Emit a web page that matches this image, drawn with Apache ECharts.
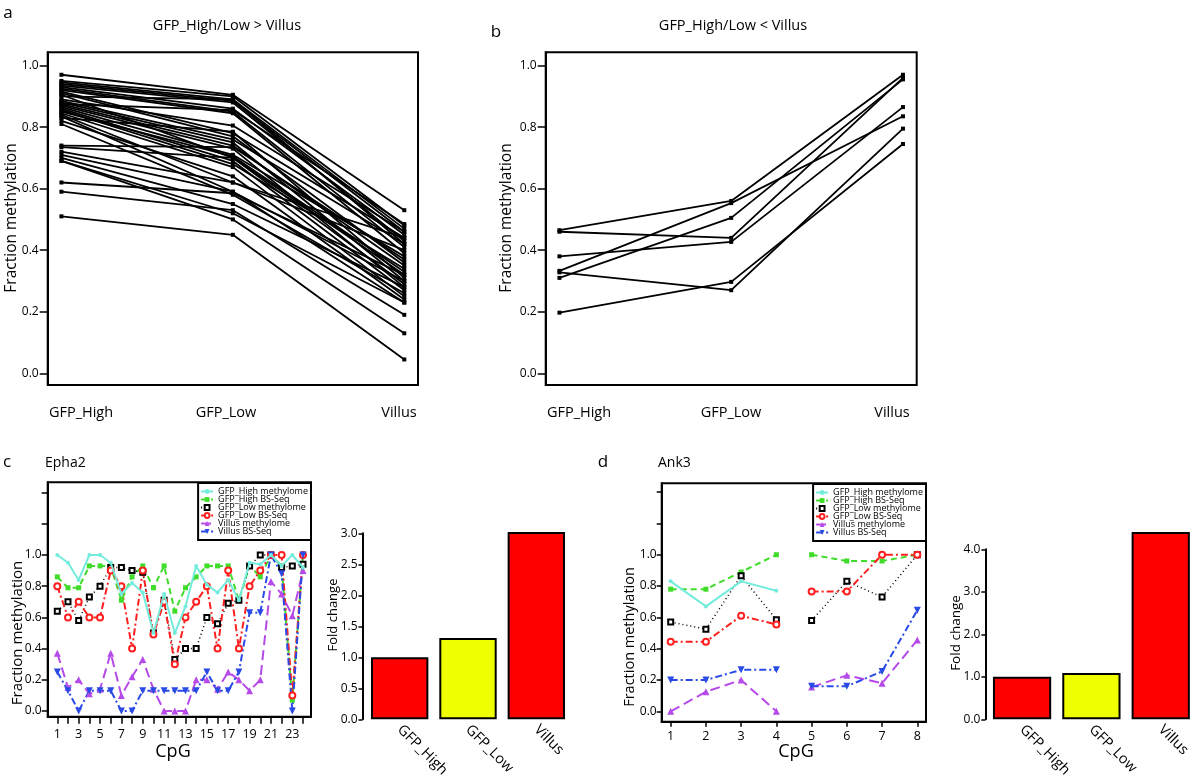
<!DOCTYPE html>
<html><head><meta charset="utf-8">
<script src="https://cdn.jsdelivr.net/npm/echarts@6/dist/echarts.min.js"></script>
<style>html,body{margin:0;padding:0;background:#fff}#main{width:1200px;height:782px}</style>
</head><body><div id="main"></div>
<script>
// ---------- DATA ----------
const groups = ['GFP_High', 'GFP_Low', 'Villus'];
// panel a: GFP_High/Low > Villus (one entry per region)
const aHigh   = [0.97,0.95,0.945,0.94,0.935,0.93,0.925,0.92,0.915,0.91,0.905,0.89,0.885,0.88,0.875,0.87,0.865,0.86,0.855,0.85,0.845,0.84,0.835,0.83,0.82,0.81,0.74,0.735,0.72,0.71,0.70,0.69,0.62,0.59,0.69,0.51,0.875,0.90];
const aLow    = [0.905,0.90,0.89,0.885,0.88,0.86,0.85,0.845,0.78,0.77,0.70,0.805,0.76,0.75,0.74,0.73,0.71,0.69,0.68,0.705,0.67,0.62,0.59,0.785,0.64,0.58,0.735,0.70,0.62,0.59,0.55,0.52,0.585,0.53,0.50,0.45,0.855,0.89];
const aVillus = [0.53,0.48,0.47,0.46,0.43,0.45,0.41,0.39,0.44,0.36,0.32,0.46,0.42,0.30,0.35,0.28,0.38,0.27,0.34,0.33,0.25,0.40,0.23,0.31,0.24,0.26,0.37,0.29,0.44,0.30,0.28,0.23,0.32,0.19,0.13,0.045,0.485,0.42];
// panel b: GFP_High/Low < Villus
const bHigh   = [0.465,0.46,0.38,0.333,0.31,0.328,0.197];
const bLow    = [0.56,0.44,0.427,0.553,0.505,0.27,0.297];
const bVillus = [0.97,0.96,0.865,0.835,0.955,0.795,0.745];
// panels c/d series names
const seriesNames = ['GFP_High methylome','GFP_High BS-Seq','GFP_Low methylome','GFP_Low BS-Seq','Villus methylome','Villus BS-Seq'];
// panel c: Epha2
const cpgC = [1,2,3,4,5,6,7,8,9,10,11,12,13,14,15,16,17,18,19,20,21,22,23,24];
const cpgCLabels = [1,3,5,7,9,11,13,15,17,19,21,23];
const cHighMeth = [1.0,0.95,0.84,1.0,1.0,0.95,0.75,0.82,0.76,0.50,0.75,0.50,0.67,0.93,0.81,0.76,0.84,0.71,0.95,0.94,1.0,0.93,1.0,0.92];
const cHighBS   = [0.86,0.79,0.79,0.93,0.93,0.93,0.71,0.86,0.93,0.79,0.93,0.64,0.79,0.86,0.93,0.93,0.93,0.71,0.93,0.86,1.0,0.93,0.07,1.0];
const cLowMeth  = [0.64,0.70,0.58,0.73,0.80,0.92,0.92,0.90,0.89,0.50,0.71,0.33,0.40,0.40,0.60,0.56,0.69,0.71,0.93,1.0,1.0,0.92,0.93,0.94];
const cLowBS    = [0.80,0.60,0.70,0.60,0.60,0.90,0.80,0.40,0.90,0.49,0.70,0.30,0.60,0.70,0.80,0.40,0.90,0.40,0.80,0.90,1.0,1.0,0.10,1.0];
const cVilMeth  = [0.37,0.15,0.20,0.11,0.14,0.37,0.10,0.22,0.33,0.14,0.0,0.0,0.0,0.20,0.20,0.14,0.25,0.20,0.13,0.20,0.83,0.75,0.61,0.90];
const cVilBS    = [0.25,0.13,0.0,0.13,0.13,0.13,0.0,0.0,0.13,0.13,0.13,0.13,0.13,0.13,0.25,0.13,0.13,0.25,0.63,0.63,1.0,0.88,0.0,1.0];
// panel d: Ank3 (CpGs 1-4 and 5-8 are separate stretches)
const cpgD = [1,2,3,4,5,6,7,8];
const dHighMeth = [0.83,0.67,0.83,0.77,null,null,null,null];
const dHighBS   = [0.78,0.78,0.89,1.0,1.0,0.96,0.96,1.0];
const dLowMeth  = [0.57,0.525,0.865,0.585,0.58,0.83,0.73,1.0];
const dLowBS    = [0.445,0.445,0.61,0.555,0.765,0.765,1.0,1.0];
const dVilMeth  = [0.0,0.125,0.2,0.0,0.155,0.23,0.18,0.455];
const dVilBS    = [0.2,0.2,0.265,0.265,0.16,0.16,0.255,0.645];
const dBreakAfter = 4;
// fold change bars
const cFold = [1.0, 1.31, 3.02];
const dFold = [1.0, 1.09, 4.41];
const methTicks = [0,0.2,0.4,0.6,0.8,1.0];
const methTicksExtra = [0,0.2,0.4,0.6,0.8,1.0,1.2,1.4];

// ---------- STYLE ----------
const FF = "'Open Sans', sans-serif";
const lineStyles = [
  {color:'#74ecdc', symbol:'circle', size:4, type:'solid', width:2},
  {color:'#3fdc2a', symbol:'rect', size:5, type:[6,4], width:2},
  {color:'#000000', symbol:'emptyRect', size:5, type:[1,3], width:1.5},
  {color:'#ff1f1f', symbol:'emptyCircle', size:6, type:[7,3,2,3], width:2},
  {color:'#b64ae9', symbol:'triangle', size:7, type:[10,5], width:2},
  {color:'#2a4ae6', symbol:'triangle', size:7, rotate:180, type:[7,3,2,3], width:2}
];
const barColors = ['#ff0000', '#f0ff00', '#ff0000'];

const series = [];
function pushPair(hi, lo, vi, idx) {
  hi.forEach((h, i) => {
    series.push({type:'line', xAxisIndex:idx, yAxisIndex:idx, silent:true,
      data:[[0,h],[1,lo[i]],[2,vi[i]]], symbol:'rect', symbolSize:4,
      lineStyle:{color:'#000', width:1.8}, itemStyle:{color:'#000'}});
  });
}
pushPair(aHigh, aLow, aVillus, 0);
pushPair(bHigh, bLow, bVillus, 1);

function cdSeries(arrs, xs, axisIdx, breakAfter) {
  arrs.forEach((vals, k) => {
    const st = lineStyles[k];
    const data = [];
    xs.forEach((x, i) => {
      data.push([x, vals[i] == null ? '-' : vals[i]]);
      if (breakAfter && x === breakAfter) data.push([x + 0.5, '-']);
    });
    series.push({type:'line', name:seriesNames[k], xAxisIndex:axisIdx, yAxisIndex:axisIdx,
      data, symbol:st.symbol, symbolSize:st.size, symbolRotate:st.rotate || 0,
      connectNulls:false, z: 2 + (k === 0 ? 1 : 0),
      lineStyle:{color:st.color, width:st.width, type:st.type},
      itemStyle:{color:st.color}});
  });
}
cdSeries([cHighMeth,cHighBS,cLowMeth,cLowBS,cVilMeth,cVilBS], cpgC, 2, null);
cdSeries([dHighMeth,dHighBS,dLowMeth,dLowBS,dVilMeth,dVilBS], cpgD, 4, dBreakAfter);

function barSeries(vals, idx) {
  series.push({type:'bar', xAxisIndex:idx, yAxisIndex:idx, barWidth:'84%', clip:false,
    data: vals.map((v, i) => ({value:v, itemStyle:{color:barColors[i]}})),
    itemStyle:{borderColor:'#000', borderWidth:2}});
}
barSeries(cFold, 3);
barSeries(dFold, 5);

const txt = {color:'#000', fontFamily:FF};
const blank = {axisLine:{show:false}, axisTick:{show:false}, axisLabel:{show:false}, splitLine:{show:false}};
function gridBox(left, top, width, height) {
  return {left, top, width, height, show:true, borderColor:'#000', borderWidth:2, backgroundColor:'transparent', outerBoundsMode:'none', containLabel:false};
}
function methY(grid, min, max, ticks, margin, tlen) {
  return {gridIndex:grid, type:'value', min, max, splitLine:{show:false},
    axisLine:{show:true, onZero:false, lineStyle:{color:'#000', width:2}},
    axisTick:{show:true, customValues:ticks, length:tlen, lineStyle:{color:'#000', width:1.5}},
    axisLabel:{customValues:methTicks, formatter:v => v.toFixed(1), margin, fontSize:12, ...txt}};
}
function abX(grid) { return {gridIndex:grid, type:'value', min:-0.08, max:2.08, ...blank}; }
function cpgX(grid, min, max, ticks, labels, margin, tlen) {
  return {gridIndex:grid, type:'value', min, max, splitLine:{show:false},
    axisLine:{show:true, onZero:false, lineStyle:{color:'#000', width:2}},
    axisTick:{show:true, customValues:ticks, length:tlen, lineStyle:{color:'#000', width:1.5}},
    axisLabel:{customValues:labels, margin, fontSize:12.5, ...txt}};
}
function barX(grid) {
  return {gridIndex:grid, type:'category', data:groups, axisLine:{show:false}, axisTick:{show:false},
    axisLabel:{rotate:-45, interval:0, margin:8, fontSize:14.5, ...txt}};
}
function barY(grid, max, interval, offset) {
  return {gridIndex:grid, type:'value', min:0, max, interval, offset, splitLine:{show:false},
    axisLine:{show:true, lineStyle:{color:'#000', width:2}},
    axisTick:{show:true, length:4, lineStyle:{color:'#000', width:1.5}},
    axisLabel:{formatter:v => v.toFixed(1), margin:5, fontSize:12, ...txt}};
}

function T(text, x, y, size, opts) {
  return Object.assign({type:'text', x, y, silent:true,
    style:{text, fill:'#000', font: size + 'px ' + FF, textAlign:'center', textVerticalAlign:'middle'}}, opts || {});
}
function TR(text, x, y, size) { return T(text, x, y, size, {rotation:Math.PI/2}); }
function TL(text, x, y, size) { const t = T(text, x, y, size); t.style.textAlign = 'left'; return t; }

const graphics = [
  T('a', 8, 13, 17), T('GFP_High/Low > Villus', 227, 26, 14.5),
  T('b', 496, 32, 17), T('GFP_High/Low < Villus', 733, 26, 14.5),
  T(groups[0], 81, 413, 14.5), T(groups[1], 226, 413, 14.5), T(groups[2], 399, 413, 14.5),
  T(groups[0], 579, 413, 14.5), T(groups[1], 731, 413, 14.5), T(groups[2], 892, 413, 14.5),
  TR('Fraction methylation', 12, 218, 15.5), TR('Fraction methylation', 507, 218, 15.5),
  T('c', 7, 462, 17), TL('Epha2', 45, 463, 14),
  T('d', 603, 462, 17), TL('Ank3', 658, 463, 14),
  TR('Fraction methylation', 18, 633, 15), TR('Fraction methylation', 630, 637, 14.5),
  T('CpG', 173, 752, 18), T('CpG', 796, 752, 18),
  TR('Fold change', 333, 615, 13), TR('Fold change', 956, 633, 13.5)
];

function legendAt(right, top) {
  return {show:true, orient:'vertical', right, top, data:seriesNames,
    backgroundColor:'#fff', borderColor:'#000', borderWidth:2, borderRadius:0,
    padding:[4,3,4,2], itemGap:-1, itemWidth:12, itemHeight:6,
    textStyle:{fontSize:9, lineHeight:9, ...txt}, selectedMode:false};
}

const option = {
  animation:false,
  backgroundColor:'#fff',
  textStyle:{fontFamily:FF},
  grid:[
    gridBox(47.7, 52.3, 370.3, 332.7),
    gridBox(545.7, 52.3, 371, 332.7),
    gridBox(47.7, 482.3, 263.3, 234.4),
    {left:365.5, top:533.3, width:205, height:186, show:false, outerBoundsMode:'none', containLabel:false},
    gridBox(661.7, 483.3, 264.3, 238.4),
    {left:987.4, top:549.3, width:208, height:170, show:false, outerBoundsMode:'none', containLabel:false}
  ],
  xAxis:[
    abX(0), abX(1),
    cpgX(2, 0.1, 24.75, cpgC, cpgCLabels, 11, 7),
    barX(3),
    cpgX(4, 0.745, 8.247, cpgD, cpgD, 8, 5),
    barX(5)
  ],
  yAxis:[
    methY(0, -0.038, 1.043, methTicks, 9, 8),
    methY(1, -0.038, 1.043, methTicks, 9, 8),
    methY(2, -0.0365, 1.466, methTicksExtra, 6, 6),
    barY(3, 3.0, 0.5, 3),
    methY(4, -0.066, 1.456, methTicksExtra, 5, 5),
    barY(5, 4.0, 1.0, 2)
  ],
  legend:[legendAt(889, 483), legendAt(274, 484)],
  graphic: graphics,
  series
};
const chart = echarts.init(document.getElementById('main'), null, {renderer:'canvas'});
chart.setOption(option);
</script></body></html>
